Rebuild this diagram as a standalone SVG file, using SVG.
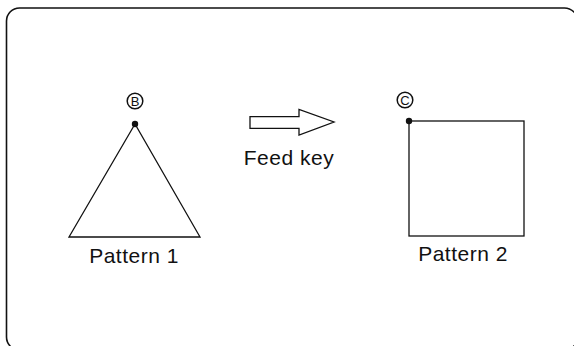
<svg xmlns="http://www.w3.org/2000/svg" width="574" height="346" viewBox="0 0 574 346">
<style>
.ln{fill:none;stroke:#111;stroke-width:1.3}
.lbl{font-family:"Liberation Sans",Arial,sans-serif;font-size:21px;fill:#111;letter-spacing:0.5px;text-anchor:middle}
.cl{font-family:"Liberation Sans",Arial,sans-serif;font-size:13px;fill:#111;text-anchor:middle}
.dot{fill:#111}
.ring{fill:none;stroke:#111;stroke-width:1.5}
</style>
<rect id="frame" x="6.5" y="8" width="571" height="342" rx="13" ry="13" fill="#fff" stroke="#111" stroke-width="1.6"/>
<g id="pattern1">
<polygon class="ln" points="135,124 69,237 200,237"/>
<circle class="dot" cx="135" cy="124" r="3.2"/>
<circle class="ring" cx="135" cy="101" r="7.8"/>
<text class="cl" x="135" y="105.7">B</text>
<text class="lbl" x="134" y="263">Pattern 1</text>
</g>
<g id="feedkey">
<polygon class="ln" points="250,116.7 299,116.7 299,109.5 334,122 299,135 299,128.3 250,128.3"/>
<text class="lbl" x="289" y="165">Feed key</text>
</g>
<g id="pattern2">
<rect class="ln" x="409" y="121" width="115" height="115"/>
<circle class="dot" cx="409" cy="121" r="3.2"/>
<circle class="ring" cx="405" cy="100" r="7.8"/>
<text class="cl" x="405" y="104.7">C</text>
<text class="lbl" x="463" y="261">Pattern 2</text>
</g>
<g id="connectors"></g>
</svg>
